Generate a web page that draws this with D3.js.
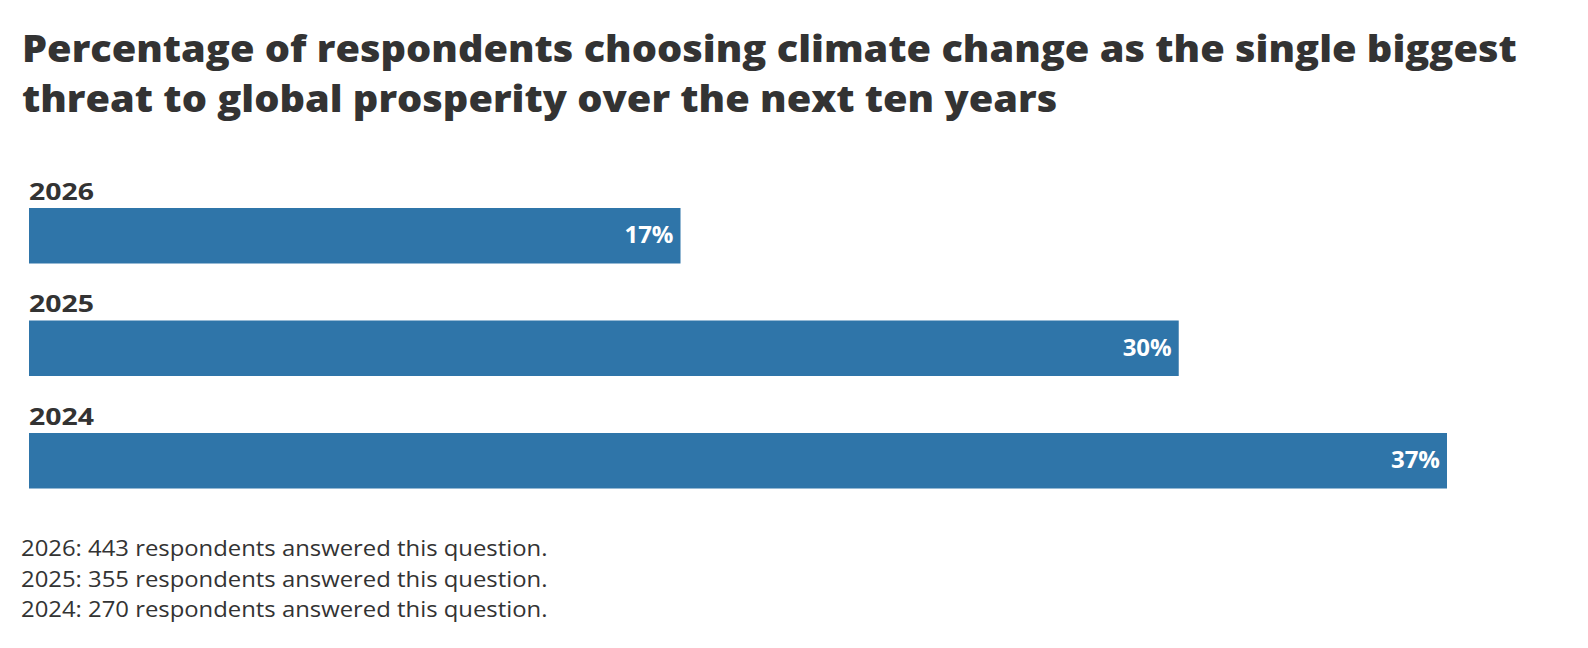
<!DOCTYPE html>
<html><head><meta charset="utf-8">
<script src="https://cdn.jsdelivr.net/npm/d3@7"></script>
<style>body{margin:0;background:#fff;} svg{display:block;}</style>
</head><body>
<svg id="c" width="1588" height="648"></svg>
<script>
const categories = ["2026", "2025", "2024"];
const values = [17, 30, 37];
const notes = ["2026: 443 respondents answered this question.",
               "2025: 355 respondents answered this question.",
               "2024: 270 respondents answered this question."];
const titleLines = ["Percentage of respondents choosing climate change as the single biggest",
                    "threat to global prosperity over the next ten years"];

const svg = d3.select("#c");
const font = "'Open Sans', sans-serif";
const ink = "#333333";
const barColor = "#2f75a9";

// horizontally stretch a group of texts (anchored at their x) so the first reaches a target width
function stretch(sel, target) {
  const w = sel.node().getComputedTextLength();
  const k = target / w;
  sel.each(function() {
    const t = d3.select(this);
    const x0 = +t.attr("x"), y0 = +t.attr("y");
    t.attr("x", 0).attr("y", 0)
     .attr("transform", `translate(${x0},${y0}) scale(${k},1)`);
  });
}

const title = svg.append("g").selectAll("text").data(titleLines).join("text")
  .attr("x", 22).attr("y", (d,i)=> 62 + i*50)
  .attr("font-family", font).attr("font-weight", 800).attr("font-size", 37)
  .attr("fill", ink).text(d=>d);
stretch(title, 1495);

const x = d3.scaleLinear().domain([0, 37]).range([29, 1447]);
const y = d3.scaleBand().domain(categories).range([176, 513.5]).paddingInner(0).paddingOuter(0);

const g = svg.append("g");
const row = g.selectAll("g").data(categories).join("g");
const yl = row.append("text").attr("x", 29).attr("y", d=> y(d) + 23.5)
  .attr("font-family", font).attr("font-weight", 700).attr("font-size", 23)
  .attr("fill", ink).text(d=>d);
stretch(yl, 65);
row.append("rect").attr("x", x(0)).attr("y", d=> y(d) + 32)
  .attr("width", (d,i)=> x(values[i]) - x(0)).attr("height", 55.5)
  .attr("fill", barColor);
row.append("text").attr("x", (d,i)=> x(values[i]) - 7).attr("y", d=> y(d) + 67)
  .attr("text-anchor", "end")
  .attr("font-family", font).attr("font-weight", 700).attr("font-size", 24)
  .attr("fill", "#fff").text((d,i)=> values[i] + "%");

const nt = svg.append("g").selectAll("text").data(notes).join("text")
  .attr("x", 21).attr("y", (d,i)=> 556 + i*30.5)
  .attr("font-family", font).attr("font-size", 22)
  .attr("fill", ink).text(d=>d);
stretch(nt, 527);
</script>
</body></html>
